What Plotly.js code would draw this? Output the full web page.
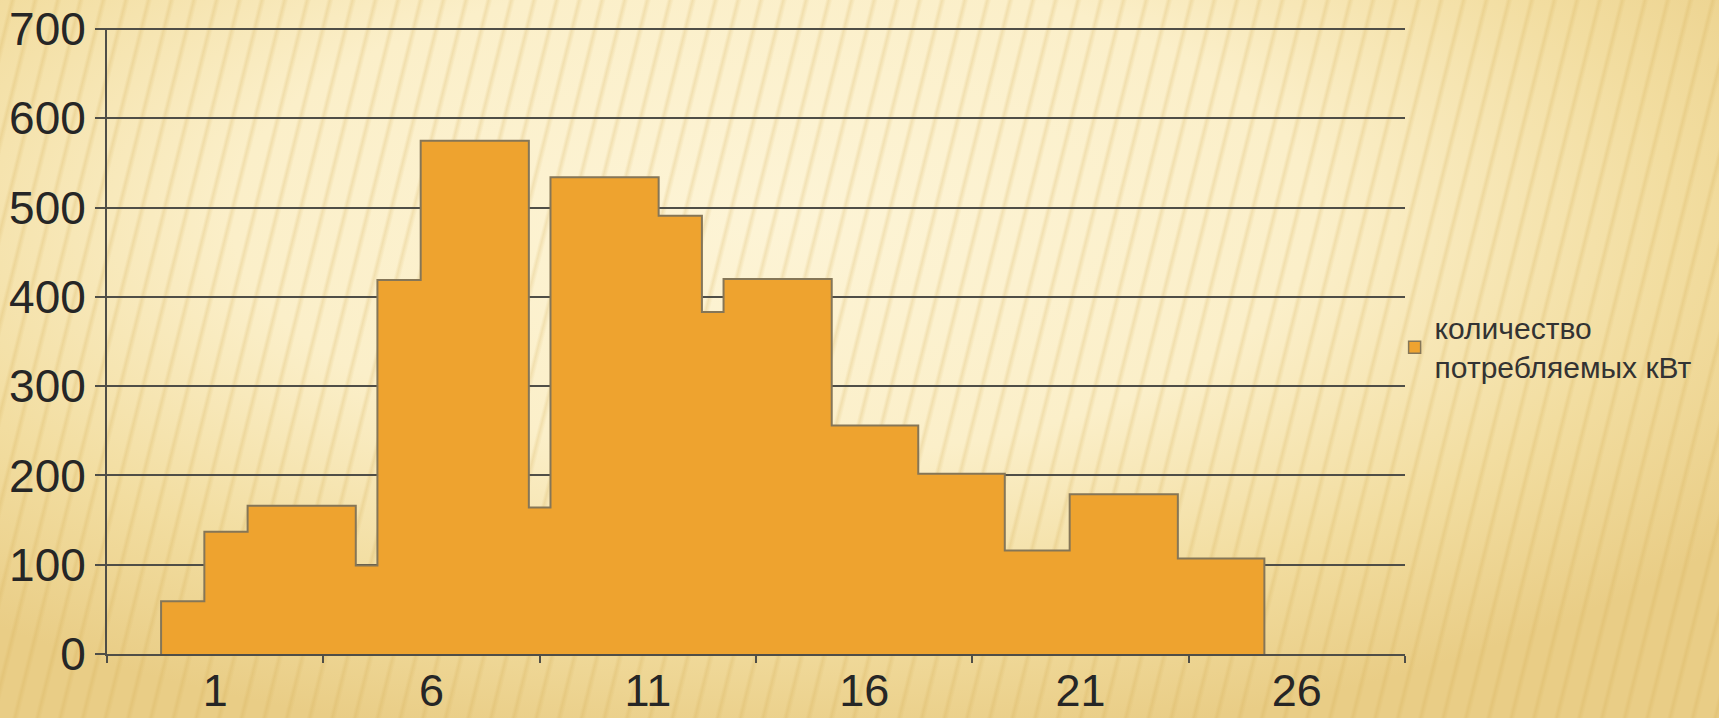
<!DOCTYPE html>
<html>
<head>
<meta charset="utf-8">
<script src="https://cdn.plot.ly/plotly-3.0.1.min.js"></script>
<style>
  html, body { margin: 0; padding: 0; width: 1719px; height: 718px; overflow: hidden; }
  body {
    background:
      repeating-linear-gradient(104deg, rgba(255,250,230,0) 0px, rgba(255,250,230,0) 9px, rgba(210,170,80,0.24) 12px, rgba(255,250,230,0) 16px, rgba(255,250,230,0) 22px),
      radial-gradient(ellipse 70% 75% at 45% 30%, #FDF4D6 0%, #FBEFC9 45%, #F2DDA0 75%, #E9CD86 100%);
  }
  #chart { width: 1719px; height: 718px; }
</style>
</head>
<body>
<div id="chart"></div>
<script>
// Step boundaries along the x axis and the value of each step
const stepEdges = [1.25, 2.25, 3.25, 5.75, 6.25, 7.25, 9.75, 10.25, 12.75, 13.75, 14.25, 16.75, 18.75, 20.75, 22.25, 24.75, 26.75];
const stepValues = [59, 137, 166, 99, 419, 575, 164, 534, 491, 383, 420, 256, 202, 116, 179, 107];
const tickLabels = ['1', '6', '11', '16', '21', '26'];
const seriesName = 'количество<br>потребляемых кВт';

const xs = [stepEdges[0]].concat(stepEdges);
const ys = [0].concat(stepValues).concat([0]);

const orange = '#EEA32F';
const outline = '#857657';
const gridCol = '#4f4e47';

const traces = [
  {
    type: 'scatter',
    mode: 'lines',
    x: xs,
    y: ys,
    line: { shape: 'hv', color: outline, width: 2 },
    fill: 'tozeroy',
    fillcolor: orange,
    showlegend: false,
    hoverinfo: 'skip'
  },
  {
    type: 'bar',
    x: [null],
    y: [null],
    name: seriesName,
    marker: { color: orange, line: { color: outline, width: 1.5 } },
    showlegend: true
  }
];

const layout = {
  width: 1719,
  height: 718,
  margin: { l: 107, r: 314, t: 28, b: 64 },
  paper_bgcolor: 'rgba(0,0,0,0)',
  plot_bgcolor: 'rgba(0,0,0,0)',
  font: { family: 'Liberation Sans, Arial, sans-serif', color: '#2a2a2a' },
  showlegend: true,
  xaxis: {
    range: [0, 30],
    showgrid: false,
    zeroline: false,
    showline: true,
    linecolor: gridCol,
    linewidth: 2,
    tickmode: 'array',
    tickvals: tickLabels.map((_, i) => 2.5 + 5 * i),
    ticktext: tickLabels,
    ticks: '',
    ticklabelstandoff: -4,
    tickfont: { size: 45, color: '#262626' },
    minor: { tickmode: 'linear', tick0: 0, dtick: 5, ticks: 'outside', ticklen: 7, tickwidth: 2, tickcolor: gridCol, showgrid: false },
    automargin: false,
    fixedrange: true
  },
  yaxis: {
    range: [0, 701.2],
    dtick: 100,
    tick0: 0,
    showgrid: true,
    gridcolor: gridCol,
    gridwidth: 2,
    zeroline: false,
    showline: true,
    linecolor: gridCol,
    linewidth: 2,
    ticks: 'outside',
    ticklen: 10,
    tickwidth: 2,
    tickcolor: gridCol,
    tickfont: { size: 46, color: '#262626' },
    automargin: false,
    fixedrange: true
  },
  legend: {
    x: 0.992,
    xanchor: 'left',
    y: 0.49,
    yanchor: 'middle',
    bgcolor: 'rgba(0,0,0,0)',
    font: { size: 30, color: '#333333', family: 'Liberation Sans, Arial, sans-serif' },
    itemclick: false,
    itemdoubleclick: false
  }
};

Plotly.newPlot('chart', traces, layout, { displayModeBar: false, staticPlot: true });
</script>
</body>
</html>
